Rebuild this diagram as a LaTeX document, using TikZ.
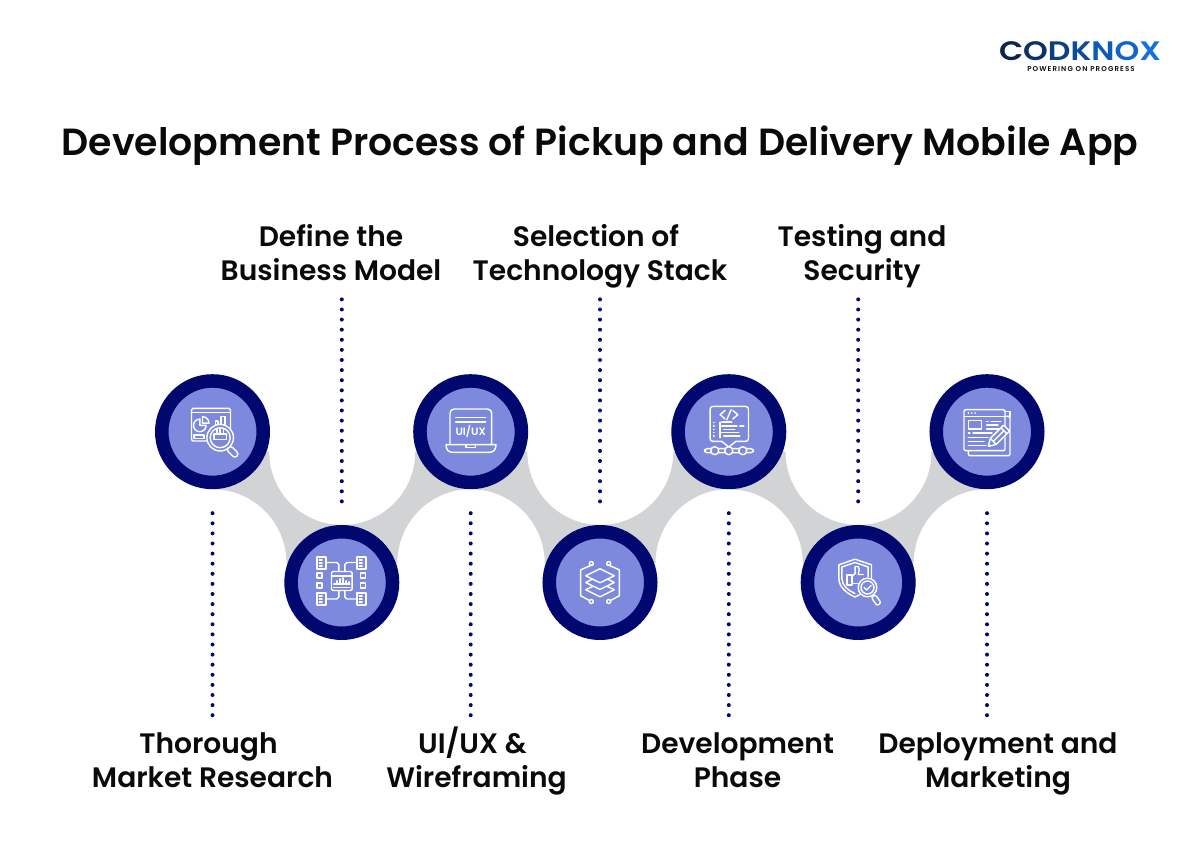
\documentclass[tikz,border=0pt]{standalone}
\usepackage{fontspec}
\usetikzlibrary{backgrounds}
\setmainfont{Poppins SemiBold}
\definecolor{stepnavy}{HTML}{00076F}
\definecolor{stepblue}{HTML}{7C89DD}
\definecolor{bandgray}{HTML}{D1D3D4}
\definecolor{inkblack}{HTML}{0A0A0A}
\definecolor{logoa}{HTML}{0B2447}
\definecolor{logob}{HTML}{0C3263}
\definecolor{logoc}{HTML}{0D3F7F}
\definecolor{logod}{HTML}{0E4C9B}
\definecolor{logoe}{HTML}{0F58B5}
\definecolor{logof}{HTML}{1064CC}
\definecolor{logog}{HTML}{1270E0}
\tikzset{
  stepnode/.style={circle,fill=stepblue,draw=stepnavy,line width=3.375mm,minimum size=25.375mm,inner sep=0pt},
  steplabel/.style={text=inkblack,align=center,text height=34pt,text depth=6pt,inner sep=0pt,font=\fontsize{20}{24.1}\selectfont},
  dotline/.style={draw=stepnavy,line width=1mm,line cap=round,dash pattern=on 0pt off 2.525mm},
  iconline/.style={draw=white,line width=0.36mm,line join=round,line cap=round}
}
\begin{document}
\begin{tikzpicture}[x=0.25mm,y=0.25mm]
    \useasboundingbox (0,0) rectangle (1200,867);
    % circles
    \path (212.5,435.3) node [stepnode] (s1) {};
    \path (341.8,284.5) node [stepnode] (s2) {};
    \path (470.7,435.3) node [stepnode] (s3) {};
    \path (600,284.5) node [stepnode] (s4) {};
    \path (728.8,435.3) node [stepnode] (s5) {};
    \path (858.2,284.5) node [stepnode] (s6) {};
    \path (987,435.3) node [stepnode] (s7) {};
    % grey band behind the circles
    \begin{pgfonlayer}{background}
    \foreach \a/\b/\c in {s1/s2/s3,s3/s4/s5,s5/s6/s7} {
        \fill[bandgray] (\a.south) arc[start angle=90,end angle=0,radius=74] -- (\b.center)
            -- ([shift={(55.5,19.5)}]\b.center) arc[start angle=180,end angle=90,radius=74] -- (\c.center)
            -- ([shift={(-55.5,-20.3)}]\c.center) arc[start angle=0,end angle=-180,radius=73] -- (\a.center) -- cycle;
    }
    \end{pgfonlayer}
    % dots
    \foreach \n in {s1,s3,s5,s7} {
        \coordinate (\n a) at ([yshift=-6mm]\n.south);
        \coordinate (\n b) at ([yshift=-56.7mm]\n.south);
        \draw[dotline] (\n a) -- (\n b);
    }
    \foreach \n in {s2,s4,s6} {
        \coordinate (\n a) at ([yshift=5.9mm]\n.north);
        \coordinate (\n b) at ([yshift=56.6mm]\n.north);
        \draw[dotline] (\n a) -- (\n b);
    }
    % texts
    \node [text=inkblack,anchor=base,font=\fontsize{26.9}{30}\selectfont] (title) at (600,711) {Development Process of Pickup and Delivery Mobile App};
    \node [steplabel] (l1) at (212.5,99.5) {Thorough\hspace*{2mm}\\Market Research};
    \node [steplabel] (l2) at (331,606) {Define the\\Business Model};
    \node [steplabel] (l3) at (476.5,99.5) {UI/UX \&\hspace*{2mm}\\Wireframing};
    \node [steplabel] (l4) at (600,606) {Selection of\hspace*{2mm}\\Technology Stack};
    \node [steplabel] (l5) at (737.5,99.5) {Development\\Phase};
    \node [steplabel] (l6) at (862,606) {Testing and\\Security};
    \node [steplabel] (l7) at (998,99.5) {Deployment and\\Marketing};
    % logo
    \node [font=\fontsize{19}{19}\selectfont,xscale=1.18,inner sep=0pt,anchor=base] (logo) at (1080,806) {\color{logoa}C\color{logob}O\color{logoc}D\color{logod}K\color{logoe}N\color{logof}O\color{logog}X};
    \node [text=inkblack,font=\fontsize{5}{5}\selectfont\addfontfeature{LetterSpace=16},inner sep=0pt,anchor=base] (slogan) at (1081,795.5) {POWERING ON PROGRESS};
    % market research
    \begin{scope}[shift={(s1.center)},every path/.style=iconline]
        \draw[rounded corners=1] (-21,-9.3) rectangle (18,23.3);
        \draw (-21,19) -- (18,19);
        \draw (-12.7,6.3) -- ++(90:6.3) arc[start angle=90,end angle=360,radius=6.3] -- cycle;
        \draw (-10,8.5) -- ++(90:6.5) arc[start angle=90,end angle=0,radius=6.5] -- cycle;
        \draw (3,6) rectangle (5.7,10.7);
        \draw (8.3,6) rectangle (12.7,15);
        \draw (-18.3,-7) rectangle (-8.7,-3.3);
        \draw[shift={(14.5,-14.5)},rotate=-45,rounded corners=2,fill=stepblue] (2,-3) rectangle (14,3);
        \draw[fill=stepblue] (7.7,-6) circle[radius=13.3];
        \draw (7.7,-6) circle[radius=10];
        \draw (1.3,-7.7) rectangle (14.1,-2.3);
        \foreach \dx in {4.4,7.7,11} {\draw (\dx,-2.3) -- (\dx,3);}
    \end{scope}
    % business model
    \begin{scope}[shift={(s2.center)},every path/.style=iconline]
        \draw[rounded corners=1] (-10.3,-8) rectangle (10.3,11);
        \draw (-10.3,6.7) -- (10.3,6.7);
        \draw (-8,-1.3) -- (8,-1.3);
        \draw (-8,-5) -- (8,-5);
        \foreach \dx/\h in {-5/3,-2/5,1/6,4/3,7/2} {\draw (\dx,-1.3) -- (\dx,-1.3+\h);}
        \foreach \dx/\dy in {-24.7/13.7,15.3/13.7,-24.7/-22.3,15.3/-22.3} {
            \draw (\dx,\dy) rectangle ++(9,11.6);
            \foreach \k in {2.8,5.8,8.8} {\draw (\dx+2.2,\dy+\k) -- (\dx+5,\dy+\k);}
        }
        \foreach \dy in {4.3,-5.7} {
            \draw (-24.7,\dy) rectangle ++(5,5);
            \draw (18.9,\dy) rectangle ++(5,5);
        }
        \draw (-15.7,20) -- (-5,20) -- (-3,18) -- (-3,11);
        \draw (15.3,20) -- (5,20) -- (3,18) -- (3,11);
        \draw (-15.7,-16.5) -- (-5,-16.5) -- (-3,-14.5) -- (-3,-8);
        \draw (15.3,-16.5) -- (5,-16.5) -- (3,-14.5) -- (3,-8);
    \end{scope}
    % ui/ux laptop
    \begin{scope}[shift={(s3.center)},every path/.style=iconline]
        \draw[rounded corners=3] (-20.7,-13) -- (-20.7,22.7) -- (21,22.7) -- (21,-13);
        \draw (-15,14.3) -- (15,14.3);
        \draw (-15,9.7) -- (15,9.7);
        \node [text=white,font=\fontsize{7.6}{8}\selectfont,inner sep=0pt] (uxtext) at (0,0) {UI/UX};
        \draw (-24.7,-13) -- (25.3,-13) .. controls (25.3,-18) and (23,-20.7) .. (18,-20.7)
            -- (-17.4,-20.7) .. controls (-22.4,-20.7) and (-24.7,-18) .. cycle;
        \draw (-4.7,-13) -- (-4.7,-16) -- (4.7,-16) -- (4.7,-13);
    \end{scope}
    % technology stack
    \begin{scope}[shift={(s4.center)},every path/.style=iconline]
        \foreach \sx in {-1,1} {
            \draw (\sx*8.7,19) ++(-\sx*1.7,-1) -- (\sx*19.3,12.7) -- (\sx*19.3,-13.3) -- (\sx*10.5,-18);
            \draw (\sx*8.7,19) circle[radius=2];
            \draw (\sx*8.7,-19) circle[radius=2];
        }
        \foreach \dy in {-7.3,0,6.7} {
            \draw[fill=stepblue] (-14.3,\dy) -- (0,\dy+7) -- (14.3,\dy) -- (0,\dy-7) -- cycle;
        }
    \end{scope}
    % development
    \begin{scope}[shift={(s5.center)},every path/.style=iconline]
        \draw[rounded corners=2] (-7,-9.7) -- (-18.7,-9.7) -- (-18.7,25.3) -- (19.7,25.3) -- (19.7,-9.7) -- (7,-9.7);
        \draw (-7,-9.7) -- (0,-15.3) -- (7,-9.7);
        \draw (-3.7,21.3) -- (-8.7,17) -- (-3.7,12.7);
        \draw (2.3,22) -- (-2,12);
        \draw (4,21.3) -- (9,17) -- (4,12.7);
        \foreach \dy in {9,5.7,2.3,-1,-4.3} {\draw (-15.3,\dy) -- (-14.7,\dy);}
        \draw (-9,9.5) -- (-9,-6);
        \draw (-7,9.5) -- (3,9.5);
        \draw (-7,5.7) -- (8,5.7) (11,5.7) -- (15,5.7);
        \draw (-5,2.3) -- (6,2.3);
        \draw (-7,-1) -- (10,-1);
        \draw (-5,-4.5) -- (11,-4.5);
        \draw[rounded corners=2] (-24.3,-21) rectangle (24.7,-17);
        \foreach \dx in {-14,0,14} {\draw[fill=stepblue] (\dx,-19) circle[radius=4];}
    \end{scope}
    % security
    \begin{scope}[shift={(s6.center)},every path/.style=iconline]
        \draw (-3.3,23.3) -- (-19.3,17.7) -- (-19.3,4) .. controls (-19.3,-5) and (-11,-11) .. (-3.3,-14.5)
            .. controls (3,-12) and (8,-8) .. (13.3,4) -- (13.3,17.7) -- cycle;
        \draw (-3.3,20) -- (-16.3,15.5) -- (-16.3,4) .. controls (-16.3,-3) and (-10,-8) .. (-3.3,-11);
        \draw (10,15.5) -- (-3.3,20) (10,15.5) -- (10,6);
        \draw (-11,-2.3) rectangle (-6,7.7);
        \draw (-6,6.5) -- (-3,9) -- (-3,16) -- (0,16) -- (1,13) -- (0,8) -- (5,8);
        \draw (-6,-1) -- (-1,-1);
        \draw[shift={(14,-12)},rotate=-55,rounded corners=1.5,fill=stepblue] (2,-2.5) rectangle (12,2.5);
        \draw[fill=stepblue] (9.3,-5) circle[radius=9.3];
        \draw (9.3,-5) circle[radius=6.5];
        \draw (6,-5) -- (8.5,-7.5) -- (13,-3);
    \end{scope}
    % deployment
    \begin{scope}[shift={(s7.center)},every path/.style=iconline]
        \draw[rounded corners=1] (-18.7,-19) -- (-18.7,-24) -- (23,-24) -- (23,15.3) -- (18,15.3);
        \draw (18,20) -- (23,20) -- (23,15);
        \draw[rounded corners=1] (-23,-19) rectangle (18,22);
        \draw (-23,15.3) -- (18,15.3);
        \foreach \dx in {-18.7,-15.3,-12} {\draw (\dx,18.7) -- (\dx+0.2,18.7);}
        \draw (-18.7,2.7) rectangle (-5.3,11);
        \draw (-0.3,10.3) -- (1,10.3) (4,10.3) -- (13.7,10.3);
        \draw (-0.3,6.5) -- (11,6.5);
        \draw (-0.3,2.7) -- (14,2.7);
        \draw (-18.7,-1.5) -- (-17,-1.5) (-14,-1.5) -- (5,-1.5);
        \draw (-18.7,-6) -- (1,-6);
        \draw (-18.7,-10) -- (-3,-10);
        \draw (-18.7,-14) -- (-1,-14);
        \draw[shift={(1.3,-14.7)},rotate=45,fill=stepblue,rounded corners=0.5] (0,0) -- (7,-4.2) -- (26,-4.2) -- (26,4.2) -- (7,4.2) -- cycle;
        \draw[shift={(1.3,-14.7)},rotate=45] (7,-4.2) -- (7,4.2) (22,-4.2) -- (22,4.2) (8,0) -- (22,0);
    \end{scope}
\end{tikzpicture}
\end{document}
